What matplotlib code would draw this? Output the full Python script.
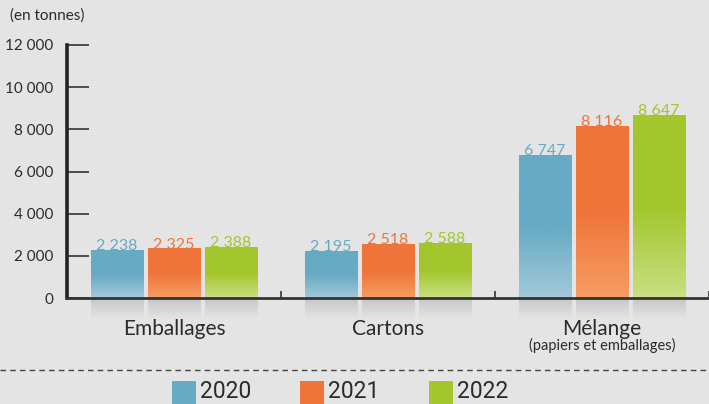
import numpy as np
import matplotlib
matplotlib.use("Agg")
import matplotlib.pyplot as plt
from matplotlib.colors import to_rgb
from matplotlib.patches import Rectangle

categories = ["Emballages", "Cartons", "Mélange"]
subtitle = "(papiers et emballages)"
years = ["2020", "2021", "2022"]
values_2020 = [2238, 2195, 6747]
values_2021 = [2325, 2518, 8116]
values_2022 = [2388, 2588, 8647]
yticks = [0, 2000, 4000, 6000, 8000, 10000, 12000]

series = dict(zip(years, [values_2020, values_2021, values_2022]))
top_colors = {"2020": "#66aac4", "2021": "#ef743a", "2022": "#a2c62c"}
bottom_colors = {"2020": "#a3c9da", "2021": "#f69d63", "2022": "#c9df82"}
bg = "#e4e4e4"
text_col = "#2b2b2b"

W, H = 709, 404
fig = plt.figure(figsize=(W / 100, H / 100), dpi=100, facecolor=bg)
ax = fig.add_axes([67 / W, (H - 298) / H, (W - 67) / W, 253 / H])
ax.set_facecolor(bg)


def fmt(v):
    return f"{v:,}".replace(",", " ")


bar_w = 0.243
step = 0.266
shadow_h = 1000


def gradient(c_top, c_bot, n=200, solid=0.5):
    t = np.linspace(0, 1, n)  # 0 = top, 1 = bottom
    f = np.clip((t - solid) / (1 - solid), 0, 1)[:, None]
    a = np.array(to_rgb(c_top))[None, :]
    b = np.array(to_rgb(c_bot))[None, :]
    return (a * (1 - f) + b * f)[:, None, :]


shade = np.linspace(0, 1, 50)[:, None]
shadow_img = np.ones((50, 1, 4))
shadow_img[..., :3] = 0.62
shadow_img[..., 3] = 0.45 * (1 - shade)

for j, y in enumerate(years):
    for i, v in enumerate(series[y]):
        x0 = i + (j - 1) * step - bar_w / 2
        ax.imshow(gradient(top_colors[y], bottom_colors[y]),
                  extent=[x0, x0 + bar_w, 0, v], aspect="auto",
                  interpolation="bilinear", zorder=2)
        ax.imshow(shadow_img, extent=[x0, x0 + bar_w, -shadow_h, 0],
                  aspect="auto", interpolation="bilinear", zorder=1,
                  clip_on=False)
        ax.text(x0 + bar_w / 2, v - 120, fmt(v), ha="center", va="bottom",
                color=top_colors[y], fontsize=11.5, family="Lato", zorder=3)

ax.set_xlim(-0.5, 2.5)
ax.set_ylim(0, 12000)

for s in ["top", "right"]:
    ax.spines[s].set_visible(False)
ax.spines["left"].set_linewidth(2.6)
ax.spines["left"].set_color("#222222")
ax.spines["bottom"].set_linewidth(2.0)
ax.spines["bottom"].set_color("#333333")

ax.set_yticks(yticks)
ax.set_yticklabels([fmt(t) for t in yticks], fontsize=11, color=text_col,
                   family="Lato")
ax.tick_params(axis="y", direction="in", length=16, width=1.2, color="#333333",
               pad=10)
ax.set_xticks([0.5, 1.5, 2.5])
ax.set_xticklabels([])
ax.tick_params(axis="x", direction="in", length=5, width=1.2, color="#333333")

for i, c in enumerate(categories):
    ax.text(i, -1000, c, ha="center", va="top", fontsize=15,
            color=text_col, family="Lato")
ax.text(2, -1900, subtitle, ha="center", va="top", fontsize=10.5,
        color=text_col, family="Lato")

fig.text(10 / W, 1 - 16 / H, "(en tonnes)", fontsize=11, color=text_col,
         family="Lato", va="center", ha="left")

fig.add_artist(plt.Line2D([0, 1], [1 - 370 / H, 1 - 370 / H], color="#444444",
                          lw=1.0, ls=(0, (4, 3)), transform=fig.transFigure))

leg_x = [172, 300, 429]
for x, y in zip(leg_x, years):
    fig.add_artist(Rectangle((x / W, 0), 24 / W, 23 / H, color=top_colors[y],
                             transform=fig.transFigure, lw=0))
    fig.text((x + 28) / W, 1 - 391 / H, y, fontsize=16.5, color=text_col,
             family="Roboto", va="center", ha="left")

fig.savefig("out.png", dpi=100, facecolor=bg)
